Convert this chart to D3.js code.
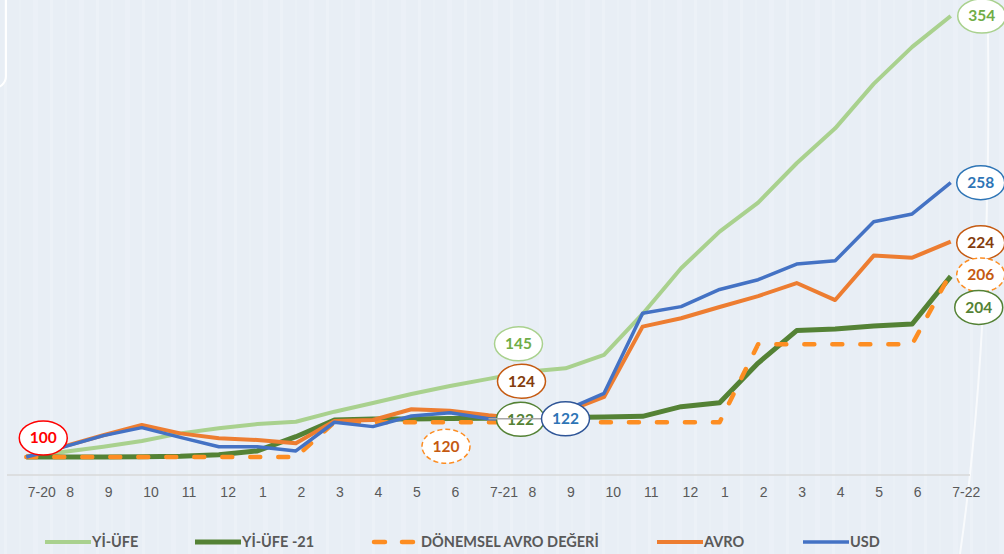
<!DOCTYPE html>
<html lang="tr">
<head>
<meta charset="utf-8">
<title>Yi-ÜFE / AVRO / USD</title>
<script src="https://cdn.jsdelivr.net/npm/d3@7"></script>
<style>
  body { margin: 0; background: #e8eef5; }
  svg { display: block; font-family: Lato, "Open Sans", sans-serif; }
  .axis path, .axis line { display: none; }
  .axis text { font-size: 14px; fill: #595959; }
  .legend text { font-size: 14.5px; font-weight: bold; fill: #595959; }
  .lbl text { font-size: 15.5px; font-weight: bold; }
</style>
</head>
<body>
<script>
// aylar (x ekseni)
var months = ["7-20","8","9","10","11","12","1","2","3","4","5","6",
              "7-21","8","9","10","11","12","1","2","3","4","5","6","7-22"];

var yiUfe   = [100,103.0,105.9,109.2,113.6,116.5,119.0,120.3,126.1,131.1,136.3,140.9,
               145,149.1,151.1,158.8,182.4,208.7,229.8,246.5,269.2,289.3,314.9,336.2,354];
var yiUfe21 = [100,100,100,100.1,100.4,101.3,103.5,111.7,121.3,121.9,121.9,122.2,
               122.3,122.6,122.8,123,123.4,129,131.3,154.1,172.8,173.7,175.5,176.6,204];
var donem   = [100,100,100,100,100,100,100,100,120,120,120,120,
               120,120,120,120,120,120,120,165,165,165,165,165,206];
var avro    = [100,106.3,112.5,118.4,113.6,110.8,109.8,107.9,120.7,121.3,127.5,126.7,
               124,122,126,134.6,175.1,179.9,186.4,192.7,200.2,190.4,216.0,214.8,224];
var usd     = [100,106,112.3,116.9,111.3,105.9,105.9,103.5,120,117.5,123.6,125.5,
               122,121.5,127,136.7,182.8,186.6,196.5,202.1,211.1,213.0,235.5,240.0,258];

var seriesNames = ["Yİ-ÜFE", "Yİ-ÜFE -21", "DÖNEMSEL AVRO DEĞERİ", "AVRO", "USD"];

var w = 1004, h = 554;

var svg = d3.select("body").append("svg")
    .attr("width", w)
    .attr("height", h);

// arka plan
var defs = svg.append("defs");
var pat = defs.append("pattern")
    .attr("id", "stripes")
    .attr("patternUnits", "userSpaceOnUse")
    .attr("width", 46).attr("height", 10);
pat.append("rect").attr("width", 46).attr("height", 10).attr("fill", "#e8eef5");
pat.append("rect").attr("x", 4).attr("width", 3).attr("height", 10).attr("fill", "#ecf1f7");
pat.append("rect").attr("x", 19).attr("width", 2).attr("height", 10).attr("fill", "#eaf0f6");
pat.append("rect").attr("x", 33).attr("width", 5).attr("height", 10).attr("fill", "#ebf0f7");

svg.append("rect").attr("width", w).attr("height", h).attr("fill", "url(#stripes)");

svg.append("rect")
    .attr("x", -40).attr("y", -40)
    .attr("width", 46).attr("height", 128)
    .attr("rx", 12)
    .attr("fill", "none")
    .attr("stroke", "#ffffff")
    .attr("stroke-width", 2);

svg.append("path")
    .attr("d", "M988,34 C990,200 985,380 960,554")
    .attr("fill", "none")
    .attr("stroke", "#ffffff")
    .attr("stroke-opacity", 0.7)
    .attr("stroke-width", 2);

// ölçekler
var xScale = d3.scalePoint()
    .domain(d3.range(months.length))
    .range([7, 970])
    .padding(0.5);

var yScale = d3.scaleLinear()
    .domain([100, 354])
    .range([457, 16]);

// eksen çizgisi
svg.append("line")
    .attr("x1", 7).attr("x2", 970)
    .attr("y1", 475).attr("y2", 475)
    .attr("stroke", "#d9d9d9")
    .attr("stroke-width", 1.5);

var xAxis = d3.axisBottom(xScale)
    .tickSize(0)
    .tickPadding(0)
    .tickFormat(function(i) { return months[i]; });

svg.append("g")
    .attr("class", "axis")
    .attr("transform", "translate(0,487)")
    .call(xAxis)
    .call(function(g) { g.select(".domain").remove(); })
    .selectAll("text")
    .attr("text-anchor", "start")
    .attr("dx", 1)
    .attr("dy", "0.71em");

var line = d3.line()
    .x(function(d, i) { return xScale(i); })
    .y(function(d) { return yScale(d); });

var styles = [
  { data: yiUfe,   color: "#a9d18e", width: 4 },
  { data: yiUfe21, color: "#548235", width: 5 },
  { data: donem,   color: "#fd8d22", width: 4.5, dash: "10,18" },
  { data: avro,    color: "#ed7d31", width: 4 },
  { data: usd,     color: "#4472c4", width: 3.5 }
];

styles.forEach(function(s) {
  svg.append("path")
      .datum(s.data)
      .attr("d", line)
      .attr("fill", "none")
      .attr("stroke", s.color)
      .attr("stroke-width", s.width)
      .attr("stroke-linejoin", "round")
      .attr("stroke-linecap", s.dash ? "round" : "butt")
      .attr("stroke-dasharray", s.dash || null);
});

// veri etiketleri
var labels = [
  { data: yiUfe,   i: 24, dx: 31, dy: 0,   stroke: "#a9d18e", text: "#70ad47" },
  { data: usd,     i: 24, dx: 30, dy: 0,   stroke: "#2e75b6", text: "#2e75b6" },
  { data: avro,    i: 24, dx: 30, dy: 1,   stroke: "#c55a11", text: "#843c0c" },
  { data: donem,   i: 24, dx: 30, dy: 2,   stroke: "#fd8d22", text: "#c55a11", dash: "5,3" },
  { data: yiUfe21, i: 24, dx: 28, dy: 31,  stroke: "#548235", text: "#548235" },
  { data: yiUfe,   i: 12, dx: 30, dy: -35, stroke: "#a9d18e", text: "#70ad47" },
  { data: avro,    i: 12, dx: 33, dy: -34, stroke: "#c55a11", text: "#843c0c" },
  { data: yiUfe21, i: 12, dx: 32, dy: 1,   stroke: "#548235", text: "#548235" },
  { data: usd,     i: 12, dx: 77, dy: 0,   stroke: "#2f5597", text: "#2e75b6", leader: true },
  { data: donem,   i: 11, dx: -4, dy: 24,  stroke: "#fd8d22", text: "#c55a11", dash: "5,3" },
  { data: avro,    i: 0,  dx: 17, dy: -19, stroke: "#ff0000", text: "#ff0000" }
];

labels.forEach(function(l) {
  var px = xScale(l.i), py = yScale(l.data[l.i]);
  var cx = px + l.dx, cy = py + l.dy;
  if (l.leader) {
    svg.append("line")
        .attr("x1", px).attr("y1", py)
        .attr("x2", cx - 22).attr("y2", cy)
        .attr("stroke", "#a6a6a6")
        .attr("stroke-width", 1.5);
  }
  var g = svg.append("g").attr("class", "lbl");
  g.append("ellipse")
      .attr("cx", cx).attr("cy", cy)
      .attr("rx", 24).attr("ry", 17)
      .attr("fill", "#ffffff")
      .attr("stroke", l.stroke)
      .attr("stroke-width", 1.5)
      .attr("stroke-dasharray", l.dash || null);
  g.append("text")
      .attr("x", cx).attr("y", cy)
      .attr("text-anchor", "middle")
      .attr("dy", "0.35em")
      .attr("fill", l.text)
      .text(Math.round(l.data[l.i]));
});

// lejant
var legendX = [45, 195, 372, 657, 803];
var legend = svg.append("g").attr("class", "legend");
styles.forEach(function(s, k) {
  var x0 = legendX[k];
  legend.append("line")
      .attr("x1", s.dash ? x0 + 2 : x0).attr("x2", s.dash ? x0 + 43 : x0 + 46)
      .attr("y1", 542).attr("y2", 542)
      .attr("stroke", s.color)
      .attr("stroke-width", s.width)
      .attr("stroke-linecap", s.dash ? "round" : "butt")
      .attr("stroke-dasharray", s.dash ? "11,17" : null);
  legend.append("text")
      .attr("x", x0 + (s.dash ? 49 : 47))
      .attr("y", 542)
      .attr("dy", "0.35em")
      .text(seriesNames[k]);
});
</script>
</body>
</html>
